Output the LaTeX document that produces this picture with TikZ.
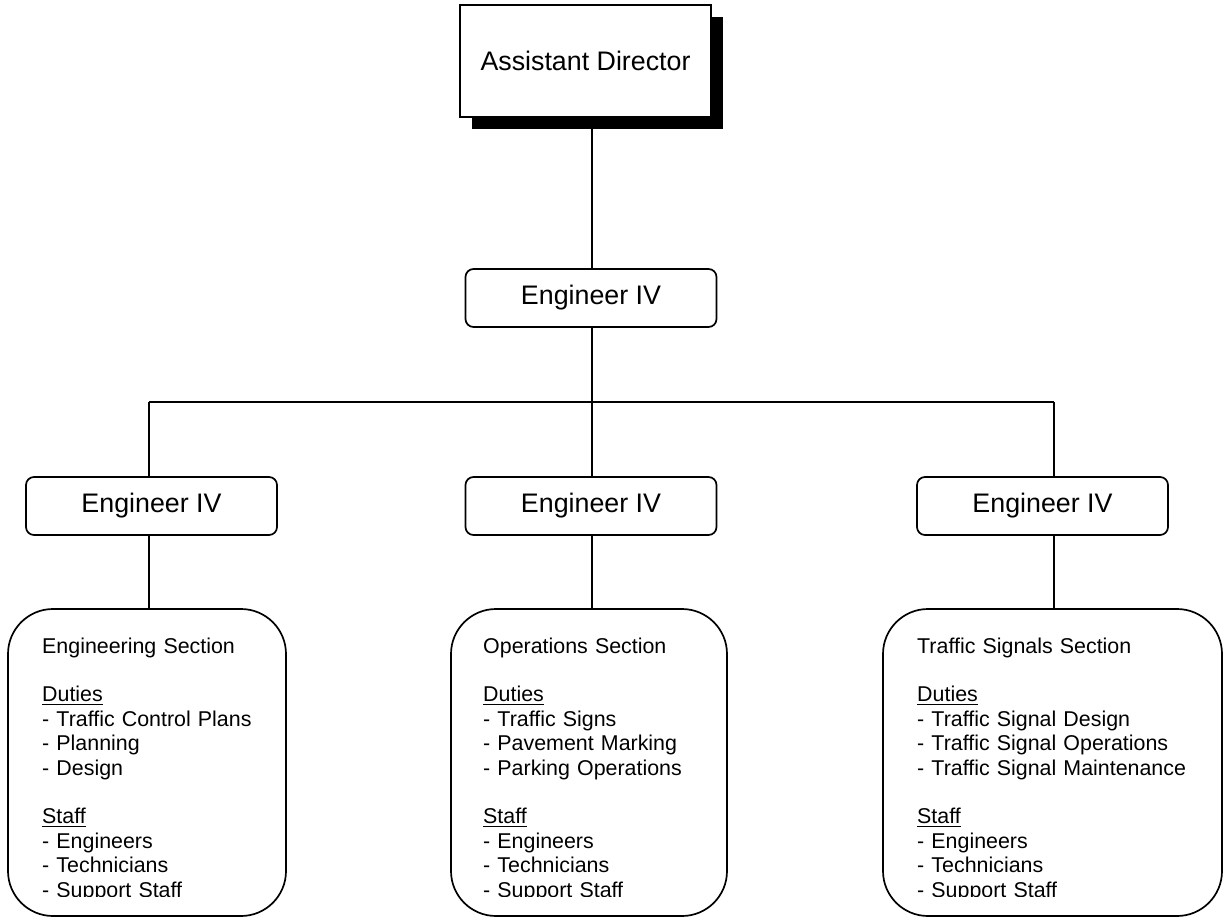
\documentclass[tikz,border=0pt]{standalone}
\usepackage{fontspec}
\setmainfont{Liberation Sans}
\usetikzlibrary{shadows}
\newsavebox\ulbox
\newcommand\ulword[1]{\leavevmode\sbox\ulbox{#1}\rlap{\rule[-3.4pt]{\wd\ulbox}{1.6pt}}\usebox\ulbox}
\begin{document}
\begin{tikzpicture}[x=1pt,y=-1pt,
  conn/.style={line width=1.7pt},
  bossbox/.style={draw, line width=1.7pt, fill=white, inner sep=0pt,
    minimum width=251pt, minimum height=112pt,
    font=\fontsize{26.8}{30}\selectfont,
    drop shadow={shadow xshift=11.5pt, shadow yshift=-12pt, fill=black, opacity=1}},
  engbox/.style={draw, line width=1.7pt, rounded corners=8pt, inner sep=0pt,
    minimum width=251pt, minimum height=58pt, font=\fontsize{26.8}{30}\selectfont},
  secbox/.style={draw, line width=1.7pt, rounded corners=45pt, inner sep=0pt,
    minimum height=307pt},
  sectext/.style={anchor=base west, inner sep=0pt, text width=300pt, align=left,
    font=\fontsize{21.4}{24.4}\selectfont}]
\useasboundingbox (0,0) rectangle (1225,920);

% head of the division
\node[bossbox] (ad) at (585.5,61) {Assistant Director};

% engineers
\node[engbox] (top) at (591,298) {Engineer IV};
\node[engbox] (e1) at (151.5,506) {Engineer IV};
\node[engbox] (e2) at (591,506) {Engineer IV};
\node[engbox] (e3) at (1042.5,506) {Engineer IV};

% sections
\node[secbox, minimum width=278pt] (s1) at (147,762.5) {};
\node[secbox, minimum width=276pt] (s2) at (589,762.5) {};
\node[secbox, minimum width=339pt] (s3) at (1052.5,762.5) {};

% bus junctions and cut line for the section lists
\coordinate (j1) at (149,402);
\coordinate (j2) at (592,402);
\coordinate (j3) at (1054,402);
\coordinate (cut) at (0,896);

% connectors
\draw[conn] (ad.south -| j2) -- (j2 |- top.north);
\draw[conn] (top.south -| j2) -- (j2);
\draw[conn] (j1) -- (j3);
\draw[conn] (j1) -- (j1 |- e1.north);
\draw[conn] (j2) -- (j2 |- e2.north);
\draw[conn] (j3) -- (j3 |- e3.north);
\draw[conn] (e1.south -| j1) -- (j1 |- s1.north);
\draw[conn] (e2.south -| j2) -- (j2 |- s2.north);
\draw[conn] (e3.south -| j3) -- (j3 |- s3.north);

% section contents
\begin{scope}
\clip (s1.north west) rectangle (s1.east |- cut);
\node[sectext] (t1) at (42,653) {Engineering Section\\[24.4pt]
\ulword{Duties}\\
- Traffic Control Plans\\
- Planning\\
- Design\\[24.4pt]
\ulword{Staff}\\
- Engineers\\
- Technicians\\
- Support Staff};
\end{scope}

\begin{scope}
\clip (s2.north west) rectangle (s2.east |- cut);
\node[sectext] (t2) at (483,653) {Operations Section\\[24.4pt]
\ulword{Duties}\\
- Traffic Signs\\
- Pavement Marking\\
- Parking Operations\\[24.4pt]
\ulword{Staff}\\
- Engineers\\
- Technicians\\
- Support Staff};
\end{scope}

\begin{scope}
\clip (s3.north west) rectangle (s3.east |- cut);
\node[sectext] (t3) at (917,653) {Traffic Signals Section\\[24.4pt]
\ulword{Duties}\\
- Traffic Signal Design\\
- Traffic Signal Operations\\
- Traffic Signal Maintenance\\[24.4pt]
\ulword{Staff}\\
- Engineers\\
- Technicians\\
- Support Staff};
\end{scope}
\end{tikzpicture}
\end{document}
